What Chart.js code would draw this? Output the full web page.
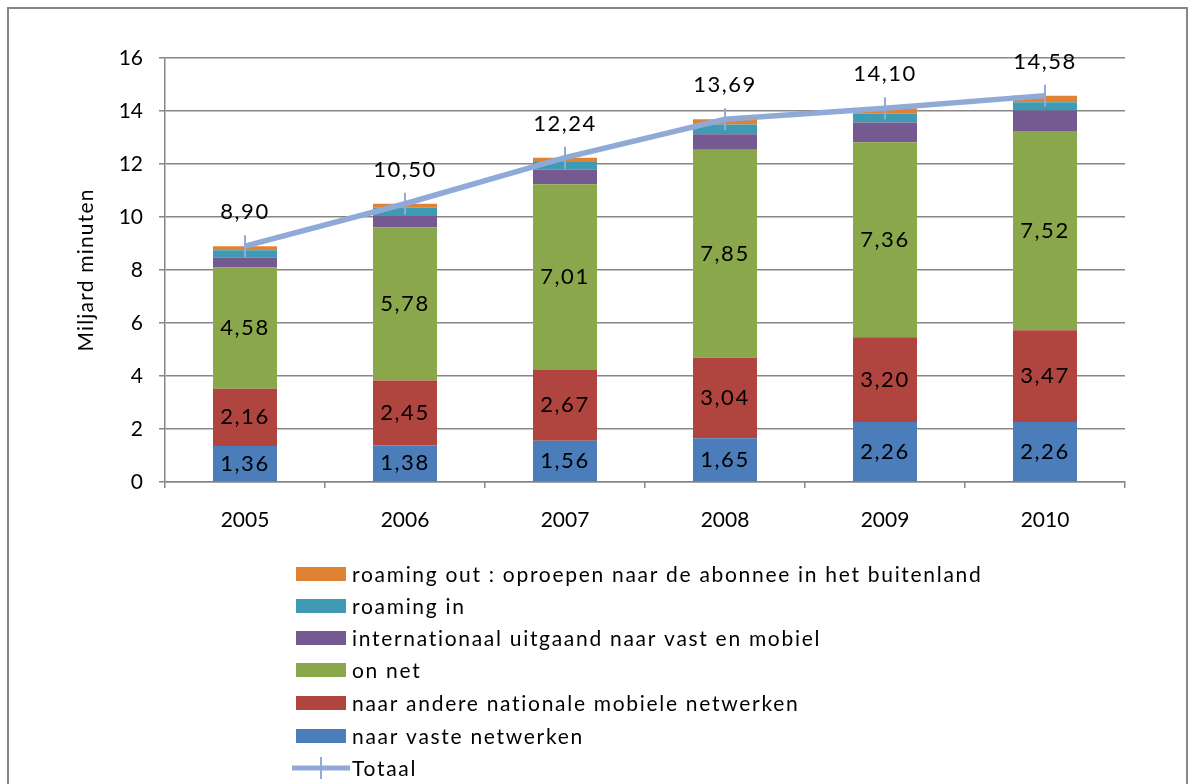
<!DOCTYPE html>
<html><head><meta charset="utf-8">
<script src="https://cdn.jsdelivr.net/npm/chart.js@4.4.1/dist/chart.umd.min.js"></script>
<style>
html,body{margin:0;padding:0;background:#fff;width:1196px;height:784px;overflow:hidden;}
#wrap{position:absolute;left:0;top:0;width:1196px;height:784px;}
</style></head>
<body><div id="wrap"><canvas id="c" width="1196" height="784"></canvas></div>
<script>
const years = ['2005','2006','2007','2008','2009','2010'];
const vasteNetwerken = [1.36,1.38,1.56,1.65,2.26,2.26];
const andereMobiele = [2.16,2.45,2.67,3.04,3.20,3.47];
const onNet = [4.58,5.78,7.01,7.85,7.36,7.52];
const internationaal = [0.36,0.43,0.55,0.58,0.75,0.77];
const roamingIn = [0.29,0.31,0.29,0.37,0.34,0.31];
const roamingOut = [0.15,0.15,0.16,0.20,0.19,0.25];
const totaal = [8.90,10.50,12.24,13.69,14.10,14.58];
const yTicks = [0,2,4,6,8,10,12,14,16];
const yTitle = 'Miljard minuten';

const FONT = "'Lato','Open Sans',sans-serif";
const fmt = v => v.toFixed(2).replace('.', ',');

const barDs = (label, data, color, showLabels) => ({
  type:'bar', label, data, backgroundColor:color, stack:'bars', order:1,
  barPercentage:0.4, categoryPercentage:1.0, showLabels
});

const datasets = [
  barDs('naar vaste netwerken', vasteNetwerken, '#4a7dba', true),
  barDs('naar andere nationale mobiele netwerken', andereMobiele, '#b0443f', true),
  barDs('on net', onNet, '#8ba74b', true),
  barDs('internationaal uitgaand naar vast en mobiel', internationaal, '#745a90', false),
  barDs('roaming in', roamingIn, '#3f9ab4', false),
  barDs('roaming out : oproepen naar de abonnee in het buitenland', roamingOut, '#e08234', false),
  {type:'line', label:'Totaal', data:totaal, stack:'line', order:0,
   borderColor:'#8faad6', backgroundColor:'#8faad6', borderWidth:5.5,
   pointStyle:'line', rotation:90, pointRadius:11, pointBorderWidth:2,
   pointBorderColor:'#8faad6', pointHoverRadius:11, tension:0, fill:false}
];

const legendOrder = [5,4,3,2,1,0,6];

const custom = {
  id:'custom',
  beforeDraw(chart){
    const ctx = chart.ctx;
    ctx.save();
    ctx.fillStyle='#fff'; ctx.fillRect(0,0,1196,784);
    ctx.strokeStyle='#868686'; ctx.lineWidth=2;
    ctx.strokeRect(8,8,1179,800);
    // y title
    ctx.translate(86, 270);
    ctx.rotate(-Math.PI/2);
    ctx.font = "21px " + FONT;
    ctx.letterSpacing = '1.2px';
    ctx.fillStyle='#000'; ctx.textAlign='center'; ctx.textBaseline='middle';
    ctx.fillText(yTitle, 0, 0);
    ctx.restore();
  },
  afterDatasetsDraw(chart){
    const ctx = chart.ctx;
    ctx.save();
    ctx.font = "22px " + FONT;
    ctx.letterSpacing = '1.5px';
    ctx.fillStyle = '#000';
    ctx.textAlign='center'; ctx.textBaseline='middle';
    chart.data.datasets.forEach((ds,i)=>{
      if(!ds.showLabels) return;
      const meta = chart.getDatasetMeta(i);
      meta.data.forEach((el,j)=>{
        const y = (el.y + el.base)/2;
        ctx.fillText(fmt(ds.data[j]), el.x, y);
      });
    });
    const lm = chart.getDatasetMeta(6);
    lm.data.forEach((el,j)=>{
      ctx.fillText(fmt(totaal[j]), el.x, el.y - 34);
    });
    // legend
    const x0 = 296, tx = 352;
    const rows = [574,606,638,670,703,736,768];
    ctx.font = "21px " + FONT;
    ctx.letterSpacing = '1.7px';
    ctx.textAlign='left';
    legendOrder.forEach((di,k)=>{
      const ds = chart.data.datasets[di];
      const y = rows[k];
      if(ds.type==='bar'){
        ctx.fillStyle = ds.backgroundColor;
        ctx.fillRect(x0, y-7, 50, 14);
      } else {
        ctx.strokeStyle = ds.borderColor; ctx.lineWidth=5;
        ctx.beginPath(); ctx.moveTo(x0-4,y); ctx.lineTo(x0+54,y); ctx.stroke();
        ctx.lineWidth=2;
        ctx.beginPath(); ctx.moveTo(x0+25,y-11); ctx.lineTo(x0+25,y+11); ctx.stroke();
      }
      ctx.fillStyle='#000';
      ctx.fillText(ds.label, tx, y+1);
    });
    ctx.restore();
  }
};

new Chart(document.getElementById('c'), {
  data:{labels:years, datasets},
  options:{
    responsive:false, animation:false, devicePixelRatio:1,
    layout:{padding:{left:60, right:71, top:58, bottom:242}},
    plugins:{legend:{display:false}, tooltip:{enabled:false}},
    scales:{
      x:{stacked:true, offset:true,
        grid:{display:true, drawOnChartArea:false, drawTicks:true, tickLength:6, color:'#868686', offset:true, lineWidth:1.5},
        border:{display:true, color:'#868686', width:1.5},
        ticks:{font:{size:21, family:FONT}, color:'#000', padding:20},
        afterFit(s){ s.height = 60; }
      },
      y:{stacked:true, min:0, max:16,
        afterBuildTicks(s){ s.ticks = yTicks.map(v=>({value:v})); },
        grid:{color:'#868686', lineWidth:1.5, tickLength:6},
        border:{display:true, color:'#868686', width:1.5},
        ticks:{font:{size:21, family:FONT}, color:'#000', padding:16},
        title:{display:false},
        afterFit(s){ s.width = 105; }
      }
    }
  },
  plugins:[custom]
});
</script></body></html>
